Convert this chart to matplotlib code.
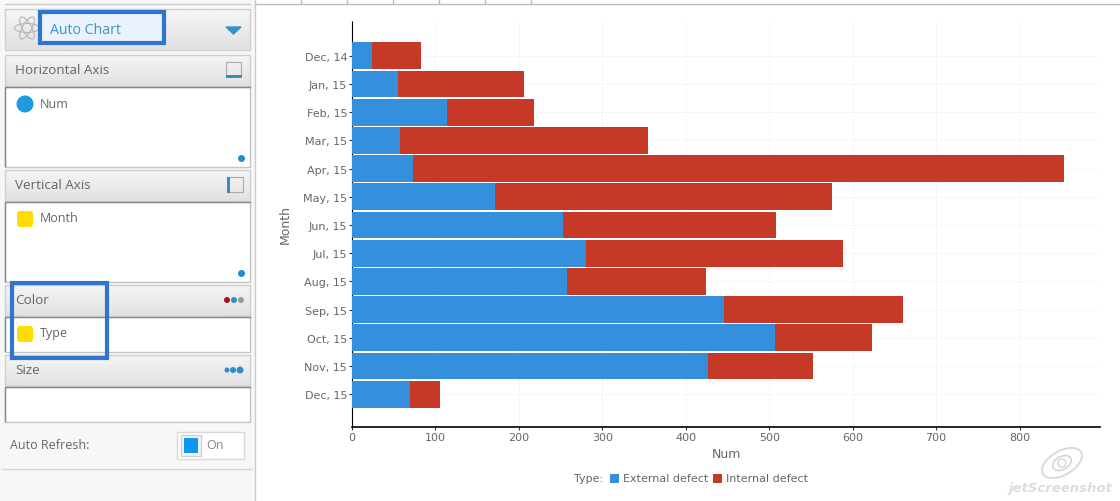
import numpy as np
import matplotlib
matplotlib.use("Agg")
import matplotlib.pyplot as plt
from matplotlib.patches import Rectangle, Circle, FancyBboxPatch, Ellipse

months = ["Dec, 14", "Jan, 15", "Feb, 15", "Mar, 15", "Apr, 15", "May, 15", "Jun, 15",
          "Jul, 15", "Aug, 15", "Sep, 15", "Oct, 15", "Nov, 15", "Dec, 15"]
external = [24, 55, 114, 58, 73, 171, 253, 281, 258, 446, 507, 427, 69]
internal = [59, 151, 104, 297, 780, 404, 255, 307, 166, 214, 116, 126, 37]
x_ticks = [0, 100, 200, 300, 400, 500, 600, 700, 800]

W, H = 1120, 502
BLUE = "#3490dc"
RED = "#c63927"
TXT = "#666666"
HL = "#2f74d0"

fig = plt.figure(figsize=(W / 100, H / 100), dpi=100, facecolor="white")

# page layer in pixel coordinates
bg = fig.add_axes([0, 0, 1, 1])
bg.axis("off")

def rect(x, y, w, h, fc="white", ec="none", lw=1, z=1):
    bg.add_patch(Rectangle((x, y), w, h, fc=fc, ec=ec, lw=lw, zorder=z))

def label(x, y, s, size=9, color=TXT, ha="left"):
    bg.text(x, y, s, fontsize=size, color=color, ha=ha, va="center", family="Open Sans", zorder=5)

def header(y, h, s):
    # light to grey vertical gradient, like the panel title bars
    grad = np.linspace(0.96, 0.88, 32).reshape(-1, 1)
    bg.imshow(grad, extent=(5, 250, y + h, y), aspect="auto", cmap="gray", vmin=0, vmax=1, zorder=2)
    rect(5, y, 245, h, fc="none", ec="#cfcfcf", z=3)
    label(15, y + h / 2 - 0.5, s, size=9.7)

# sidebar
rect(0, 0, 255, H, fc="#f7f7f7")
bg.plot([255, 255], [0, H], color="#cccccc", lw=1)
bg.plot([255, W], [4.5, 4.5], color="#bbbbbb", lw=1)
for tab_x in [301, 347, 393, 439, 485, 531]:
    bg.plot([tab_x, tab_x], [0, 4], color="#bbbbbb", lw=1)
bg.plot([5, 250], [4.5, 4.5], color="#cccccc", lw=1)

header(10, 41, "")
for ang in [0, 60, 120]:
    bg.add_patch(Ellipse((27, 29), 25, 9, angle=ang, fc="none", ec="#b5b5b5", lw=0.8, zorder=3))
rect(40, 13, 124, 31, fc="#eaf3fb", ec=HL, lw=3, z=3)
label(50, 30, "Auto Chart", size=10.2, color="#3b93cc")
bg.fill([226, 241, 233.5], [28, 28, 35], color="#2f93d0", zorder=3)

header(56, 31, "Horizontal Axis")
rect(226, 63, 15, 14, fc="none", ec="#aaaaaa", lw=0.8, z=3)
rect(226, 76, 16, 2.5, fc="#2f8fc8", z=4)
rect(5, 87.5, 245, 80, ec="#c4c4c4")
bg.plot([5, 5, 250], [167, 87.5, 87.5], color="#888888", lw=1, zorder=3)
bg.add_patch(Circle((25, 105), 8.5, fc="#1f9ae0", zorder=3))
label(40, 104, "Num")
bg.add_patch(Circle((241.5, 159.5), 3.5, fc="#1f8fcf", zorder=3))

header(171, 31, "Vertical Axis")
rect(228, 178, 15, 15, fc="none", ec="#aaaaaa", lw=0.8, z=3)
rect(227, 178, 3, 16, fc="#2f8fc8", z=4)
rect(5, 202.5, 245, 80, ec="#c4c4c4")
bg.plot([5, 5, 250], [282, 202.5, 202.5], color="#888888", lw=1, zorder=3)
bg.add_patch(FancyBboxPatch((17, 212), 16, 16, boxstyle="round,pad=0,rounding_size=3", fc="#ffdd00", ec="none", zorder=3))
label(40, 219, "Month")
bg.add_patch(Circle((241.5, 274.5), 3.5, fc="#1f8fcf", zorder=3))

header(286, 31, "Color")
for cx, col in zip([227, 234, 241], ["#b01020", "#2f8fc8", "#999999"]):
    bg.add_patch(Circle((cx, 301), 3, fc=col, zorder=3))
rect(5, 317.5, 245, 35, ec="#c4c4c4")
bg.plot([5, 5, 250], [352, 317.5, 317.5], color="#888888", lw=1, zorder=3)
bg.add_patch(FancyBboxPatch((17, 327), 16, 16, boxstyle="round,pad=0,rounding_size=3", fc="#ffdd00", ec="none", zorder=3))
label(40, 334, "Type")

header(356, 31, "Size")
for cx, r in zip([227, 233, 240], [2.5, 3, 3.5]):
    bg.add_patch(Circle((cx, 371), r, fc="#2f8fc8", zorder=3))
rect(5, 387.5, 245, 35, ec="#c4c4c4")
bg.plot([5, 5, 250], [422, 387.5, 387.5], color="#888888", lw=1, zorder=3)

label(10, 446, "Auto Refresh:", size=9)
rect(177, 433, 67, 27, fc="white", ec="#d8d8d8")
rect(181, 436, 20, 21, fc="#f4f4f4", ec="#d0d0d0", z=2)
rect(184, 439, 14, 15, fc="#0f96ee", z=3)
label(206, 446, "On", size=9, color="#888888")
bg.plot([2, 252], [469.5, 469.5], color="#d5d5d5", lw=1)

# blue highlight around the colour field
rect(12, 284, 95, 75, fc="none", ec=HL, lw=3, z=6)

# chart
ax = fig.add_axes([352 / W, 1 - 428 / H, (1100 - 352) / W, (428 - 22) / H])
ax.patch.set_alpha(0)
y = list(range(len(months)))
ax.barh(y, external, height=0.95, color=BLUE, zorder=3)
ax.barh(y, internal, left=external, height=0.95, color=RED, zorder=3)
ax.set_xlim(0, 748 / 0.8345)
ax.set_ylim(13.16, -1.23)
ax.set_xticks(x_ticks)
ax.set_yticks(y)
ax.set_yticklabels(months)
ax.tick_params(axis="both", labelsize=8, labelcolor=TXT, color="#333333", length=2, width=0.8, pad=1.5)
ax.grid(True, color="#eeeeee", lw=0.7, ls=(0, (2, 2)), zorder=0)
ax.spines["top"].set_visible(False)
ax.spines["right"].set_visible(False)
ax.spines["left"].set_color("black")
ax.spines["left"].set_linestyle((0, (2, 1)))
ax.spines["bottom"].set_color("black")
ax.spines["bottom"].set_linewidth(1.2)
ax.set_xlabel("Num", fontsize=9, color=TXT, labelpad=4)
ax.set_ylabel("Month", fontsize=9, color=TXT, labelpad=8)

# legend
bg.text(574, 479, "Type:", fontsize=8, color=TXT, va="center", zorder=5)
rect(610, 475, 9, 9, fc=BLUE, z=5)
bg.text(623, 479, "External defect", fontsize=8, color=TXT, va="center", zorder=5)
rect(713, 475, 9, 9, fc=RED, z=5)
bg.text(726, 479, "Internal defect", fontsize=8, color=TXT, va="center", zorder=5)

# screenshot tool watermark
bg.add_patch(Ellipse((1062, 464), 44, 24, angle=-30, fc="none", ec="#d5d5d5", lw=1.2, zorder=5))
bg.add_patch(Ellipse((1062, 464), 20, 13, angle=-30, fc="none", ec="#d5d5d5", lw=1.2, zorder=5))
bg.add_patch(Circle((1062, 464), 4, fc="none", ec="#d5d5d5", lw=1, zorder=5))
bg.text(1009, 489, "jetScreenshot", fontsize=9.5, style="italic", weight="bold", color="#dddddd", va="center", zorder=5)

# imshow resets the limits, so fix them after everything is drawn
bg.set_xlim(0, W)
bg.set_ylim(H, 0)

fig.savefig("out.png", dpi=100)
